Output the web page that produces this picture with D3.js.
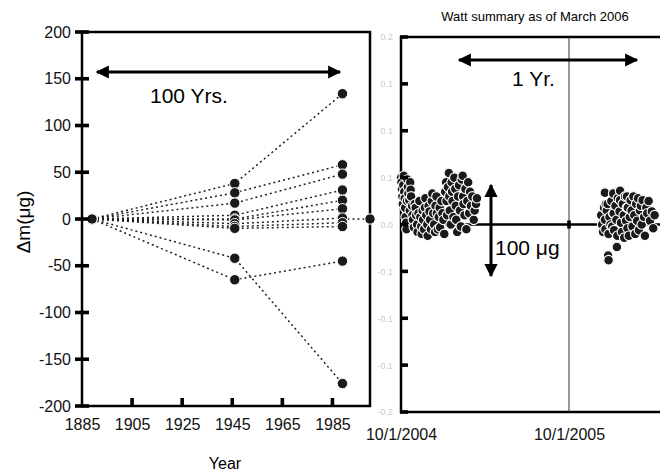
<!DOCTYPE html>
<html>
<head>
<meta charset="utf-8">
<script src="https://cdn.jsdelivr.net/npm/d3@7"></script>
<style>
  body { margin: 0; background: #fff; }
  svg { font-family: "Liberation Sans", Arial, sans-serif; }
</style>
</head>
<body>
<div id="chart"></div>
<script>
// historic comparisons (years, delta m in ug)
const years = [1889, 1946, 1989]
const histSeries = [
  [0, 38, 134],
  [0, 28, 58],
  [0, 17, 48],
  [0, 4, 31],
  [0, 0, 20],
  [0, -1, 11],
  [0, -5, 1],
  [0, -8, -4],
  [0, -10, -8],
  [0, -42, -176],
  [0, -65, -45]
]
const linkYears = [1989, 2000]
const linkValues = [0, 0]

const yTicksLeft = [-200, -150, -100, -50, 0, 50, 100, 150, 200]
const xTicksLeft = [1885, 1905, 1925, 1945, 1965, 1985]

// watt balance points: days after 10/1/2004, delta m in ug
const watt1Days = [0,1,2,3,4,5,6,7,8,9,10,11,12,13,14,15,16,18,19,20,21,22,24,25,26,28,30,32,33,35,36,38,40,
  42,44,45,47,48,50,52,53,55,57,58,60,62,63,65,67,68,70,72,74,75,77,78,80,82,84,85,88,90,92,94,
  96,98,99,100,102,104,105,106,108,110,111,112,114,116,118,119,120,122,124,126,128,130,132,134,135,136,138,140,142,144,146,148,150,152,155,158,160,163,165]
const watt1Vals = [50,45,38,30,22,42,52,35,28,18,8,2,-5,25,48,40,33,26,15,45,37,30,20,10,5,-3,22,18,10,0,-8,12,25,
  8,-2,-10,15,5,-5,18,28,10,0,-12,20,14,5,-5,25,33,12,0,-8,20,30,12,-5,8,18,-3,25,12,5,-10,
  35,45,25,10,40,55,30,15,0,45,35,25,8,50,38,20,5,-8,30,42,15,-2,48,52,30,22,10,38,-5,25,45,12,35,20,30,5,15,22,28]

// second campaign: days after 10/1/2005
const watt2Days = [70,72,74,76,78,78,79,80,82,84,85,86,86,88,90,92,94,96,96,97,98,101,103,104,105,106,110,111,111,113,115,117,119,120,122,124,126,126,127,128,130,132,134,136,138,140,142,144,146,148,150,152,154,156,158,160,163,165,168,170,173,176,180,183,186]
const watt2Vals = [10,0,-8,18,5,34,-5,22,15,22,-33,-10,-38,8,0,25,-2,33,12,12,-6,20,5,-24,-12,28,14,36,26,2,-8,22,10,-14,30,4,30,18,-4,18,-12,8,26,15,-2,30,10,-10,22,4,28,-6,15,20,0,26,8,-12,18,12,25,4,14,-4,10]

const yTicksRight = [-200, -150, -100, -50, 0, 50, 100, 150, 200]
const dateTicks = ["10/1/2004", "10/1/2005"]

const WIDTH = 660
const HEIGHT = 473
const FONT = "Liberation Sans, Arial, sans-serif"

const svg = d3.select("#chart").append("svg")
  .attr("width", WIDTH)
  .attr("height", HEIGHT)

// arrowhead + blur for the faint labels
const defs = svg.append("defs")
defs.append("marker")
  .attr("id", "head")
  .attr("viewBox", "0 0 10 10")
  .attr("refX", 9).attr("refY", 5)
  .attr("markerWidth", 5).attr("markerHeight", 4.4)
  .attr("markerUnits", "strokeWidth")
  .attr("orient", "auto-start-reverse")
  .append("path")
  .attr("d", "M0,0 L10,5 L0,10 Z")
  .attr("fill", "black")
defs.append("filter").attr("id", "soft")
  .append("feGaussianBlur").attr("stdDeviation", 0.45)

// ---------- left panel ----------
const xL = d3.scaleLinear().domain([1885, 2000]).range([82, 370])
const yL = d3.scaleLinear().domain([-200, 200]).range([406, 32])

const left = svg.append("g")

left.append("rect")
  .attr("x", 82).attr("y", 32)
  .attr("width", 288).attr("height", 374)
  .attr("fill", "none").attr("stroke", "black").attr("stroke-width", 2.5)

const axL = left.append("g")
  .attr("transform", "translate(82,0)")
  .call(d3.axisLeft(yL).tickValues(yTicksLeft).tickFormat(d => String(d)).tickSize(0).tickPadding(11))
const axB = left.append("g")
  .attr("transform", "translate(0,406)")
  .call(d3.axisBottom(xL).tickValues(xTicksLeft).tickFormat(d => String(d)).tickSize(0).tickPadding(13))

left.selectAll(".domain").remove()
left.selectAll(".tick line").remove()
left.selectAll(".tick text").attr("font-size", 16).attr("fill", "#111")
  .attr("font-family", FONT)

// tick marks drawn from the scales
for (const t of yTicksLeft) {
  svg.append("rect")
    .attr("x", 75).attr("width", 14)
    .attr("y", yL(t) - 1.8).attr("height", 3.6)
    .attr("fill", "black")
}
for (const t of xTicksLeft.slice(1)) {
  svg.append("rect")
    .attr("x", xL(t) - 1.8).attr("width", 3.6)
    .attr("y", 398).attr("height", 8)
    .attr("fill", "black")
}

const lineL = d3.line().x((d, i) => xL(years[i])).y(d => yL(d))

left.selectAll(".hist")
  .data(histSeries)
  .join("path")
  .attr("d", lineL)
  .attr("fill", "none")
  .attr("stroke", "#222")
  .attr("stroke-width", 1.5)
  .attr("stroke-dasharray", "2,3")

left.append("path")
  .attr("d", d3.line().x((d, i) => xL(linkYears[i])).y(d => yL(d))(linkValues))
  .attr("fill", "none").attr("stroke", "#222").attr("stroke-width", 1.5)
  .attr("stroke-dasharray", "2,3")

const histPts = []
histSeries.forEach(s => s.forEach((v, i) => histPts.push([years[i], v])))
histPts.push([linkYears[1], linkValues[1]])

left.selectAll(".pt")
  .data(histPts)
  .join("circle")
  .attr("cx", d => xL(d[0]))
  .attr("cy", d => yL(d[1]))
  .attr("r", 5.2)
  .attr("fill", "#1a1a1a")
  .attr("stroke", "white")
  .attr("stroke-width", 1)

// 100 Yrs arrow
left.append("line")
  .attr("x1", 97).attr("x2", 340).attr("y1", 72).attr("y2", 72)
  .attr("stroke", "black").attr("stroke-width", 3)
  .attr("marker-start", "url(#head)").attr("marker-end", "url(#head)")
left.append("text")
  .attr("x", 150).attr("y", 103)
  .attr("font-size", 21)
  .text("100 Yrs.")

left.append("text")
  .attr("x", 225).attr("y", 469)
  .attr("text-anchor", "middle")
  .attr("font-size", 16)
  .text("Year")

left.append("text")
  .attr("transform", "translate(30,222) rotate(-90)")
  .attr("text-anchor", "middle")
  .attr("font-size", 19)
  .text("Δm(μg)")

// ---------- right panel ----------
const parse = d3.timeParse("%m/%d/%Y")
const xR = d3.scaleTime().domain([parse("10/1/2004"), parse("10/1/2005")]).range([401, 569])
const yR = d3.scaleLinear().domain([-200, 200]).range([412, 37])

const right = svg.append("g")

right.append("rect")
  .attr("x", 401).attr("y", 37)
  .attr("width", 300).attr("height", 375)
  .attr("fill", "none").attr("stroke", "black").attr("stroke-width", 2.5)

const axR = right.append("g")
  .attr("transform", "translate(401,0)")
  .call(d3.axisLeft(yR).tickValues(yTicksRight).tickSize(0).tickPadding(8).tickFormat(d => (d / 1000).toFixed(1)))
axR.selectAll(".tick line").remove()
axR.selectAll(".tick text")
  .attr("font-size", 9).attr("fill", "#c8c8c8")
  .attr("font-family", FONT)
  .attr("filter", "url(#soft)")
axR.select(".domain").remove()

for (const t of yTicksRight) {
  svg.append("rect")
    .attr("x", 400).attr("width", 8)
    .attr("y", yR(t) - 1.8).attr("height", 3.6)
    .attr("fill", "black")
}

const axRB = right.append("g")
  .attr("transform", "translate(0,412)")
  .call(d3.axisBottom(xR).tickValues(dateTicks.map(parse)).tickFormat(d3.timeFormat("%-m/%-d/%Y")).tickSize(0).tickPadding(17))
axRB.select(".domain").remove()
axRB.selectAll(".tick line").remove()
axRB.selectAll(".tick text").attr("font-size", 16).attr("fill", "#111")
  .attr("font-family", FONT)

// one year marker
right.append("line")
  .attr("x1", xR(parse("10/1/2005"))).attr("x2", xR(parse("10/1/2005")))
  .attr("y1", 37).attr("y2", 412)
  .attr("stroke", "#333").attr("stroke-width", 1)

// zero line
right.append("line")
  .attr("x1", 401).attr("x2", 700)
  .attr("y1", yR(0)).attr("y2", yR(0))
  .attr("stroke", "black").attr("stroke-width", 2.5)
right.append("rect")
  .attr("x", xR(parse("10/1/2005")) - 1.8).attr("width", 3.6)
  .attr("y", yR(0) - 4).attr("height", 8)
  .attr("fill", "black")

const wattPts = []
watt1Days.forEach((d, i) => wattPts.push([d3.timeDay.offset(parse("10/1/2004"), d), watt1Vals[i]]))
watt2Days.forEach((d, i) => wattPts.push([d3.timeDay.offset(parse("10/1/2005"), d), watt2Vals[i]]))

right.selectAll(".wpt")
  .data(wattPts)
  .join("circle")
  .attr("cx", d => xR(d[0]))
  .attr("cy", d => yR(d[1]))
  .attr("r", 4.8)
  .attr("fill", "#1a1a1a")
  .attr("stroke", "white")
  .attr("stroke-width", 1.1)

// 1 Yr arrow
right.append("line")
  .attr("x1", 459).attr("x2", 637).attr("y1", 60).attr("y2", 60)
  .attr("stroke", "black").attr("stroke-width", 3)
  .attr("marker-start", "url(#head)").attr("marker-end", "url(#head)")
right.append("text")
  .attr("x", 512).attr("y", 86)
  .attr("font-size", 21)
  .text("1 Yr.")

// 100 ug arrow
right.append("line")
  .attr("x1", 491).attr("x2", 491).attr("y1", 185).attr("y2", 276)
  .attr("stroke", "black").attr("stroke-width", 3)
  .attr("marker-start", "url(#head)").attr("marker-end", "url(#head)")
right.append("text")
  .attr("x", 495).attr("y", 255)
  .attr("font-size", 21)
  .text("100 μg")

right.append("text")
  .attr("x", 535).attr("y", 21)
  .attr("text-anchor", "middle")
  .attr("font-size", 13)
  .text("Watt summary as of March 2006")
</script>
</body>
</html>
